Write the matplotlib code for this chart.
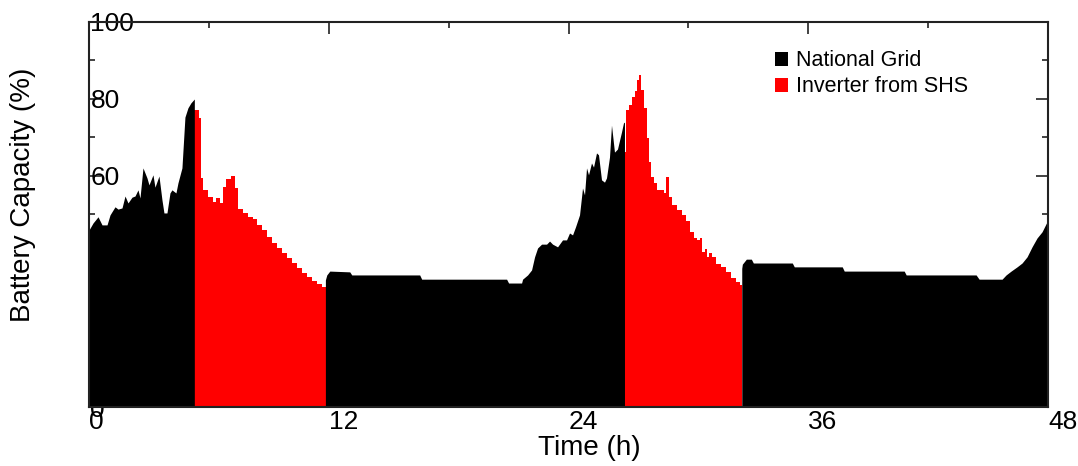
import matplotlib
matplotlib.use("Agg")
import matplotlib.pyplot as plt
from matplotlib.patches import Patch
from matplotlib.ticker import MultipleLocator

plt.rcParams['font.family'] = ['Liberation Sans', 'DejaVu Sans']

# battery capacity (%) vs time (h), one list per source period
grid1_t = [0.0, 0.2, 0.45, 0.65, 0.9, 1.05, 1.3, 1.45, 1.65, 1.8, 1.95, 2.15, 2.3, 2.45,
           2.55, 2.7, 2.9, 3.0, 3.2, 3.3, 3.5, 3.65, 3.75, 3.9, 4.05, 4.15, 4.35, 4.45,
           4.65, 4.8, 4.95, 5.1, 5.27]
grid1_c = [46.0, 47.8, 49.4, 47.3, 47.3, 49.9, 52.0, 51.4, 51.7, 54.8, 53.0, 54.5, 54.8, 56.4,
           54.3, 62.1, 59.5, 57.7, 60.3, 57.1, 60.0, 53.8, 50.4, 50.4, 55.6, 56.4, 55.6, 58.2,
           62.1, 75.3, 77.7, 79.0, 80.0]

inv1_t = [5.27, 5.4, 5.5, 5.6, 5.7, 5.95, 6.2, 6.35, 6.55, 6.7, 6.85, 7.1, 7.3, 7.45, 7.7,
          7.95, 8.2, 8.4, 8.65, 8.9, 9.15, 9.4, 9.65, 9.9, 10.15, 10.4, 10.65, 10.9, 11.15,
          11.4, 11.65, 11.85]
inv1_c = [77.1, 77.1, 75.0, 59.5, 56.4, 54.5, 53.2, 54.3, 53.0, 57.1, 59.2, 60.0, 56.9, 51.4, 50.4,
          49.4, 48.8, 47.3, 46.0, 44.2, 42.6, 41.3, 40.0, 38.7, 37.4, 36.1, 34.8, 33.8, 32.7,
          31.9, 31.2, 30.4]

grid2_t = [11.83, 11.9, 12.05, 13.05, 13.15, 16.55, 16.65, 20.9, 21.0, 21.65, 21.7, 21.95,
           22.15, 22.3, 22.45, 22.65, 22.9, 23.05, 23.2, 23.45, 23.7, 23.9, 24.05, 24.2,
           24.35, 24.55, 24.7, 24.8, 24.9, 25.0, 25.15, 25.25, 25.4, 25.5, 25.65, 25.8,
           25.9, 26.05, 26.15, 26.3, 26.45, 26.65, 26.75, 26.8]
grid2_c = [33.0, 34.3, 35.3, 35.1, 34.3, 34.3, 33.2, 33.2, 32.2, 32.2, 33.2, 34.3,
           35.6, 39.0, 41.3, 42.3, 42.3, 43.1, 42.3, 41.6, 43.4, 43.4, 45.2, 44.7,
           46.8, 49.9, 56.9, 55.1, 62.1, 60.3, 63.4, 62.3, 66.0, 65.5, 59.0, 58.4,
           59.5, 64.9, 73.2, 66.2, 67.0, 71.4, 73.8, 74.0]

inv2_t = [26.8, 26.9, 27.05, 27.2, 27.35, 27.45, 27.55, 27.65, 27.8, 27.95, 28.05, 28.15,
          28.3, 28.45, 28.65, 28.8, 28.9, 29.05, 29.2, 29.45, 29.7, 29.9, 30.1, 30.3, 30.45,
          30.6, 30.7, 30.85, 30.95, 31.05, 31.2, 31.4, 31.65, 31.9, 32.15, 32.4, 32.6, 32.69]
inv2_c = [66.2, 77.1, 78.4, 80.5, 82.0, 84.9, 86.2, 82.3, 77.7, 69.9, 63.6, 59.7,
          58.2, 56.4, 56.4, 55.6, 59.7, 54.5, 52.5, 51.2, 49.9, 48.3, 45.5, 43.9, 43.4,
          43.9, 40.3, 41.0, 39.0, 40.0, 39.0, 37.1, 36.4, 35.1, 33.5, 32.5, 31.7, 31.7]

grid3_t = [32.67, 32.7, 32.9, 33.15, 33.25, 35.2, 35.3, 37.7, 37.8, 40.8, 40.9, 44.4, 44.55,
           45.7, 45.9, 46.15, 46.45, 46.7, 46.95, 47.2, 47.45, 47.7, 47.95, 48.0]
grid3_c = [36.0, 37.1, 38.4, 38.4, 37.4, 37.4, 36.4, 36.4, 35.3, 35.3, 34.3, 34.3, 33.2,
           33.2, 34.3, 35.3, 36.4, 37.4, 39.0, 41.6, 43.9, 45.5, 48.1, 48.5]

grid_segments = [(grid1_t, grid1_c), (grid2_t, grid2_c), (grid3_t, grid3_c)]
inverter_segments = [(inv1_t, inv1_c), (inv2_t, inv2_c)]

legend_labels = ['National Grid', 'Inverter from SHS']
x_ticks = [0, 12, 24, 36, 48]
y_ticks = [0, 20, 40, 60, 80, 100]

fig = plt.figure(figsize=(10.78, 4.66), dpi=100)
ax = fig.add_axes([0.0826, 0.1266, 0.8896, 0.8262])

for t, c in inverter_segments:
    ax.fill_between(t, 0, c, color='#ff0000', linewidth=0, step='post', zorder=2)
for t, c in grid_segments:
    ax.fill_between(t, 0, c, color='black', linewidth=0, zorder=2)

ax.set_xlim(0, 48)
ax.set_ylim(0, 100)
ax.set_xticks(x_ticks)
ax.set_yticks(y_ticks)
ax.xaxis.set_minor_locator(MultipleLocator(6))
ax.yaxis.set_minor_locator(MultipleLocator(10))
ax.tick_params(which='both', direction='in', top=True, right=True, width=1.2, color='#222222')
ax.tick_params(which='major', length=8.5)
ax.tick_params(which='minor', length=4.5)
ax.tick_params(axis='y', labelsize=19, pad=-1)
ax.tick_params(axis='x', labelsize=19, pad=2)
for lab in ax.get_yticklabels():
    lab.set_ha('left')
for lab in ax.get_xticklabels():
    lab.set_ha('left')

for sp in ax.spines.values():
    sp.set_linewidth(1.5)
    sp.set_color('#222222')

ax.set_xlabel('Time (h)', fontsize=20)
ax.set_ylabel('Battery Capacity (%)', fontsize=20)
ax.xaxis.set_label_coords(0.522, -0.074)
ax.yaxis.set_label_coords(-0.055, 0.55)

handles = [Patch(facecolor='black', edgecolor='none'),
           Patch(facecolor='#ff0000', edgecolor='none')]
ax.legend(handles, legend_labels, loc='upper left', bbox_to_anchor=(0.715, 0.926),
          frameon=False, fontsize=15.5, handlelength=0.62, handleheight=0.62,
          handletextpad=0.35, labelspacing=0.22, borderpad=0, borderaxespad=0)

fig.savefig('out.png', dpi=100)
